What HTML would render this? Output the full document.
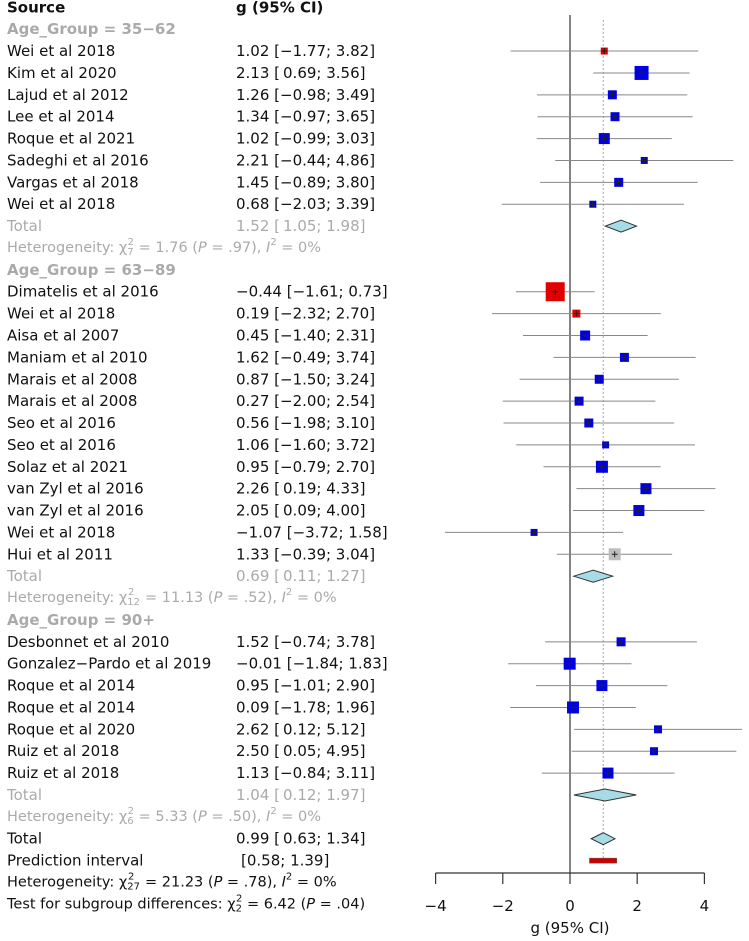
<!DOCTYPE html>
<html><head><meta charset="utf-8"><style>
html,body{margin:0;padding:0;background:#fff;}
svg{display:block;font-family:"DejaVu Sans","Liberation Sans",sans-serif;}
</style></head><body>
<svg id="plot" width="749" height="941" viewBox="0 0 749 941" xmlns="http://www.w3.org/2000/svg"></svg>
<script>
// ---- data ----
const studyNames1 = ["Wei et al 2018","Kim et al 2020","Lajud et al 2012","Lee et al 2014","Roque et al 2021","Sadeghi et al 2016","Vargas et al 2018","Wei et al 2018"];
const est1 = [1.02,2.13,1.26,1.34,1.02,2.21,1.45,0.68];
const lo1 = [-1.77,0.69,-0.98,-0.97,-0.99,-0.44,-0.89,-2.03];
const hi1 = [3.82,3.56,3.49,3.65,3.03,4.86,3.80,3.39];
const box1 = [7,14,9,9,11,7,9,7];
const col1 = ["red","blue","blue","blue","blue","blue","blue","blue"];
const studyNames2 = ["Dimatelis et al 2016","Wei et al 2018","Aisa et al 2007","Maniam et al 2010","Marais et al 2008","Marais et al 2008","Seo et al 2016","Seo et al 2016","Solaz et al 2021","van Zyl et al 2016","van Zyl et al 2016","Wei et al 2018","Hui et al 2011"];
const est2 = [-0.44,0.19,0.45,1.62,0.87,0.27,0.56,1.06,0.95,2.26,2.05,-1.07,1.33];
const lo2 = [-1.61,-2.32,-1.40,-0.49,-1.50,-2.00,-1.98,-1.60,-0.79,0.19,0.09,-3.72,-0.39];
const hi2 = [0.73,2.70,2.31,3.74,3.24,2.54,3.10,3.72,2.70,4.33,4.00,1.58,3.04];
const box2 = [19,8,10,9,9,9,9,7,12,11,11,7,12];
const col2 = ["red","red","blue","blue","blue","blue","blue","blue","blue","blue","blue","blue","grey"];
const studyNames3 = ["Desbonnet et al 2010","Gonzalez\u2212Pardo et al 2019","Roque et al 2014","Roque et al 2014","Roque et al 2020","Ruiz et al 2018","Ruiz et al 2018"];
const est3 = [1.52,-0.01,0.95,0.09,2.62,2.50,1.13];
const lo3 = [-0.74,-1.84,-1.01,-1.78,0.12,0.05,-0.84];
const hi3 = [3.78,1.83,2.90,1.96,5.12,4.95,3.11];
const box3 = [9,12,11,12,8,8,11];
const col3 = ["blue","blue","blue","blue","blue","blue","blue"];
const groupLabels = ["Age_Group = 35\u221262","Age_Group = 63\u221289","Age_Group = 90+"];
const groupTotal = [1.52,0.69,1.04];
const groupLo = [1.05,0.11,0.12];
const groupHi = [1.98,1.27,1.97];
const groupHet = [["7","1.76",".97"],["12","11.13",".52"],["6","5.33",".50"]];
const overall = [0.99,0.63,1.34];
const predInt = [0.58,1.39];
const xTicks = [-4,-2,0,2,4];
const xTickLabels = ["\u22124","\u22122","0","2","4"];

// ---- scales ----
const xs = v => 570 + v*33.6;
const ys = i => 7.3 + i*21.88;
const svg = document.getElementById('plot');
const NS = "http://www.w3.org/2000/svg";
const colors = {red:"#e00000",blue:"#0000e0",grey:"#bdbdbd"};
function mk(tag, attrs, parent){const e=document.createElementNS(NS,tag);for(const k in attrs)e.setAttribute(k,attrs[k]);(parent||svg).appendChild(e);return e;}
function fmt(v){return (v<0?"\u2212":"")+Math.abs(v).toFixed(2);}
function ci(e,l,h){return fmt(e)+" ["+(l<0?"":"\u2009")+fmt(l)+"; "+fmt(h)+"]";}
function txt(x,y,s,opts){const t=mk('text',Object.assign({x:x,y:y,'dominant-baseline':'central','font-size':15,fill:'#111'},opts||{}));t.textContent=s;return t;}

// headers
let h=txt(7,ys(0),"Source",{'font-weight':'bold'});


h=txt(236,ys(0),"g (95% CI)",{'font-weight':'bold'});



// reference lines
let ln=mk('line',{x1:xs(0),x2:xs(0),y1:15,y2:873,stroke:'#333','stroke-width':1.2});


ln=mk('line',{x1:xs(overall[0]),x2:xs(overall[0]),y1:20,y2:862,stroke:'#aaa','stroke-width':1,'stroke-dasharray':'2,2'});



function diamond(e,l,h,y,name,fill){
  const p=mk('polygon',{points:`${xs(l)},${y} ${xs(e)},${y-6} ${xs(h)},${y} ${xs(e)},${y+6}`,fill:fill||'#a8dbe8',stroke:'#333','stroke-width':1});
  
  
}

const groups=[[studyNames1,est1,lo1,hi1,box1,col1],[studyNames2,est2,lo2,hi2,box2,col2],[studyNames3,est3,lo3,hi3,box3,col3]];
let row=1;
groups.forEach((g,gi)=>{
  let t=txt(7,ys(row),groupLabels[gi],{'font-weight':'bold',fill:'#aaa'});
  
  
  row++;
  g[0].forEach((n,i)=>{
    const y=ys(row);
    let a=txt(7,y,n);
    
    
    a=txt(236,y,ci(g[1][i],g[2][i],g[3][i]));
    
    
    const l=mk('line',{x1:xs(g[2][i]),x2:Math.min(xs(g[3][i]),745),y1:y,y2:y,stroke:'#888','stroke-width':1});
    
    
    const s=g[4][i];
    const r=mk('rect',{x:xs(g[1][i])-s/2,y:y-s/2,width:s,height:s,fill:colors[g[5][i]]});
    
    
    const c=mk('path',{d:`M${xs(g[1][i])-3},${y}h6M${xs(g[1][i])},${y-3}v6`,stroke:'#222','stroke-width':1});
    
    
    row++;
  });
  const y=ys(row);
  t=txt(7,y,"Total",{fill:'#aaa'});
  
  
  t=txt(236,y,ci(groupTotal[gi],groupLo[gi],groupHi[gi]),{fill:'#aaa'});
  
  
  diamond(groupTotal[gi],groupLo[gi],groupHi[gi],y,'subgroup-diamond');
  row++;
  const hy=ys(row);
  const ht=mk('text',{x:7,y:hy,'dominant-baseline':'central','font-size':14.5,fill:'#aaa'});
  
  
  const sub=groupHet[gi][0];
  ht.innerHTML=`Heterogeneity: \u03c7<tspan dy="4" font-size="10">${sub}</tspan><tspan dy="-10" font-size="10" dx="${sub.length>1?-12:-6}">2</tspan><tspan dy="6" dx="${sub.length>1?6:0}"> = ${groupHet[gi][1]} (</tspan><tspan font-style="italic">P</tspan> = ${groupHet[gi][2]}), <tspan font-style="italic">I</tspan><tspan dy="-6" font-size="10">2</tspan><tspan dy="6"> = 0%</tspan>`;
  row++;
});
// overall
let y=ys(row);
let t=txt(7,y,"Total");
t=txt(236,y,ci(overall[0],overall[1],overall[2]));
diamond(overall[0],overall[1],overall[2],y,'overall-diamond');
row++; y=ys(row);
t=txt(7,y,"Prediction interval");
t=txt(241,y,"["+fmt(predInt[0])+"; "+fmt(predInt[1])+"]");
const pr=mk('rect',{x:xs(predInt[0]),y:y-2.5,width:xs(predInt[1])-xs(predInt[0]),height:5,fill:'#cc0000',stroke:'#555','stroke-width':0.5});

row++; y=ys(row);
t=mk('text',{x:7,y:y,'dominant-baseline':'central','font-size':14.5,fill:'#111'});

t.innerHTML=`Heterogeneity: \u03c7<tspan dy="4" font-size="10">27</tspan><tspan dy="-10" font-size="10" dx="-12">2</tspan><tspan dy="6" dx="6"> = 21.23 (</tspan><tspan font-style="italic">P</tspan> = .78), <tspan font-style="italic">I</tspan><tspan dy="-6" font-size="10">2</tspan><tspan dy="6"> = 0%</tspan>`;
row++; y=ys(row);
t=mk('text',{x:7,y:y,'dominant-baseline':'central','font-size':14.5,fill:'#111'});

t.innerHTML=`Test for subgroup differences: \u03c7<tspan dy="4" font-size="10">2</tspan><tspan dy="-10" font-size="10" dx="-6">2</tspan><tspan dy="6"> = 6.42 (</tspan><tspan font-style="italic">P</tspan> = .04)`;

// axis
const ax=mk('g',{});
mk('line',{x1:xs(xTicks[0]),x2:xs(xTicks[xTicks.length-1]),y1:873,y2:873,stroke:'#333','stroke-width':1.2},ax);
xTicks.forEach((v,i)=>{
  const tk=mk('line',{x1:xs(v),x2:xs(v),y1:873,y2:884,stroke:'#333','stroke-width':1.2},ax);
  
  const tl=txt(xs(v),906,xTickLabels[i],{'text-anchor':'middle'});
  
});
t=txt(570,928,"g (95% CI)",{'text-anchor':'middle'});

</script>
</body></html>
